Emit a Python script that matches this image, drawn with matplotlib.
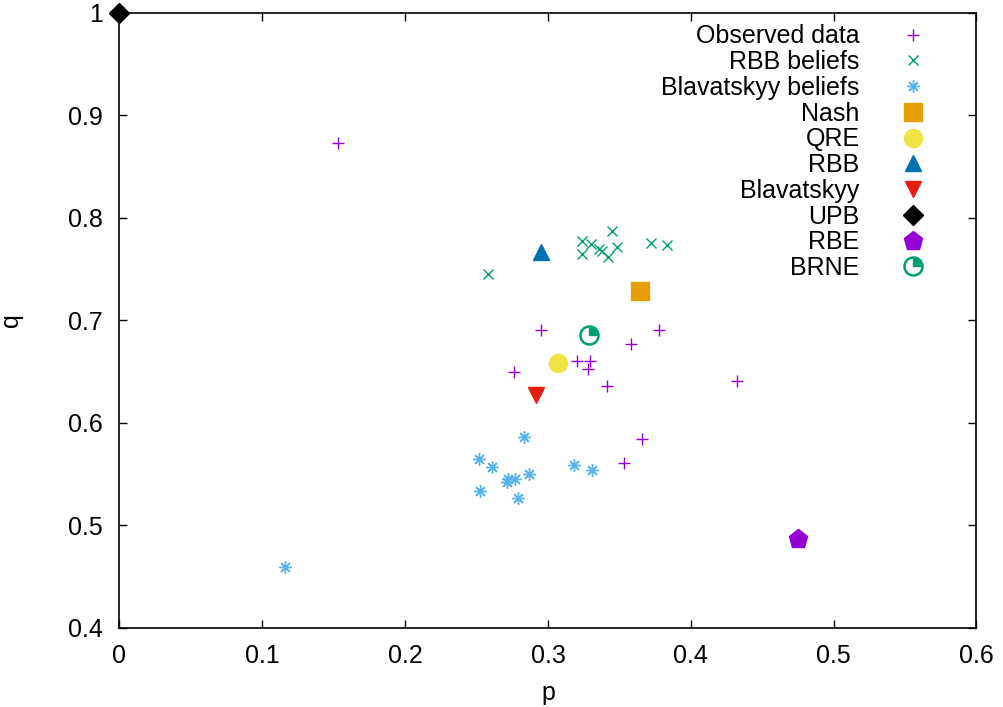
import matplotlib
matplotlib.use("Agg")
import matplotlib.pyplot as plt
from matplotlib.path import Path
from matplotlib.legend_handler import HandlerTuple

plt.rcParams['font.family'] = ['Liberation Sans', 'DejaVu Sans']
plt.rcParams['font.size'] = 18

# observed (p, q)
obs_p = [0.153, 0.295, 0.378, 0.358, 0.320, 0.3295, 0.328, 0.276, 0.341, 0.432, 0.366, 0.353]
obs_q = [0.873, 0.690, 0.690, 0.677, 0.660, 0.660, 0.652, 0.649, 0.636, 0.641, 0.584, 0.561]

# RBB beliefs
rbb_p = [0.258, 0.345, 0.324, 0.330, 0.324, 0.336, 0.338, 0.348, 0.342, 0.372, 0.383]
rbb_q = [0.745, 0.787, 0.777, 0.774, 0.764, 0.769, 0.767, 0.771, 0.761, 0.775, 0.773]

# Blavatskyy beliefs
bla_p = [0.2835, 0.2517, 0.261, 0.318, 0.3307, 0.2868, 0.2718, 0.277, 0.271, 0.2524, 0.2788, 0.1159]
bla_q = [0.5856, 0.564, 0.5563, 0.559, 0.554, 0.5498, 0.5446, 0.545, 0.542, 0.533, 0.526, 0.459]

# equilibrium predictions
nash = (0.3647, 0.728)
qre = (0.307, 0.658)
rbb = (0.2954, 0.766)
blav = (0.2917, 0.627)
upb = (0.0, 1.0)
rbe = (0.475, 0.486)
brne = (0.3286, 0.685)

fig = plt.figure(figsize=(10.04, 7.07), dpi=100)
ax = fig.add_axes([0.119, 0.1124, 0.8536, 0.8699])

h_obs, = ax.plot(obs_p, obs_q, '+', color='#9400d3', ms=8.5, mew=1.0, ls='none', label='Observed data')
h_rbbb, = ax.plot(rbb_p, rbb_q, 'x', color='#009e73', ms=7, mew=1.0, ls='none', label='RBB beliefs')
h_blab, = ax.plot(bla_p, bla_q, marker=(8, 2, 0), color='#56b4e9', ms=9, mew=1.0, ls='none', label='Blavatskyy beliefs')
h_nash, = ax.plot([nash[0]], [nash[1]], 's', color='#e69f00', ms=13.5, ls='none', label='Nash')
h_qre, = ax.plot([qre[0]], [qre[1]], 'o', color='#f0e442', ms=13, ls='none', label='QRE')
h_rbb, = ax.plot([rbb[0]], [rbb[1]], '^', color='#0072b2', ms=12, ls='none', label='RBB')
h_blav, = ax.plot([blav[0]], [blav[1]], 'v', color='#e51e10', ms=12, ls='none', label='Blavatskyy')
h_upb, = ax.plot([upb[0]], [upb[1]], 'D', color='black', ms=10, ls='none', label='UPB', clip_on=False, zorder=5)
h_rbe, = ax.plot([rbe[0]], [rbe[1]], 'p', color='#9400d3', ms=14, ls='none', label='RBE')
wedge = Path.wedge(0, 90)
h_brne1, = ax.plot([brne[0]], [brne[1]], 'o', mfc='white', mec='#009e73', mew=1.8, ms=13, ls='none')
h_brne2, = ax.plot([brne[0]], [brne[1]], marker=wedge, color='#009e73', ms=11, ls='none')

ax.set_xlim(0, 0.6)
ax.set_ylim(0.4, 1.0)
ax.set_xticks([0, 0.1, 0.2, 0.3, 0.4, 0.5, 0.6])
ax.set_xticklabels(['0', '0.1', '0.2', '0.3', '0.4', '0.5', '0.6'])
ax.set_yticks([0.4, 0.5, 0.6, 0.7, 0.8, 0.9, 1.0])
ax.set_yticklabels(['0.4', '0.5', '0.6', '0.7', '0.8', '0.9', '1'])
ax.tick_params(direction='in', top=True, right=True, length=6, width=1, pad=12)
for s in ax.spines.values():
    s.set_linewidth(1.2)
ax.set_xlabel('p', labelpad=9)
ax.set_ylabel('q', labelpad=32)

handles = [h_obs, h_rbbb, h_blab, h_nash, h_qre, h_rbb, h_blav, h_upb, h_rbe, (h_brne1, h_brne2)]
labels = ['Observed data', 'RBB beliefs', 'Blavatskyy beliefs', 'Nash', 'QRE', 'RBB',
          'Blavatskyy', 'UPB', 'RBE', 'BRNE']
leg = ax.legend(handles, labels, loc='upper right', bbox_to_anchor=(0.960, 0.997), frameon=False,
                markerfirst=False, handlelength=1.5, handletextpad=1.4, labelspacing=0.07,
                handler_map={tuple: HandlerTuple(ndivide=1, pad=0)}, borderaxespad=0)

fig.savefig('out.png', dpi=100)
